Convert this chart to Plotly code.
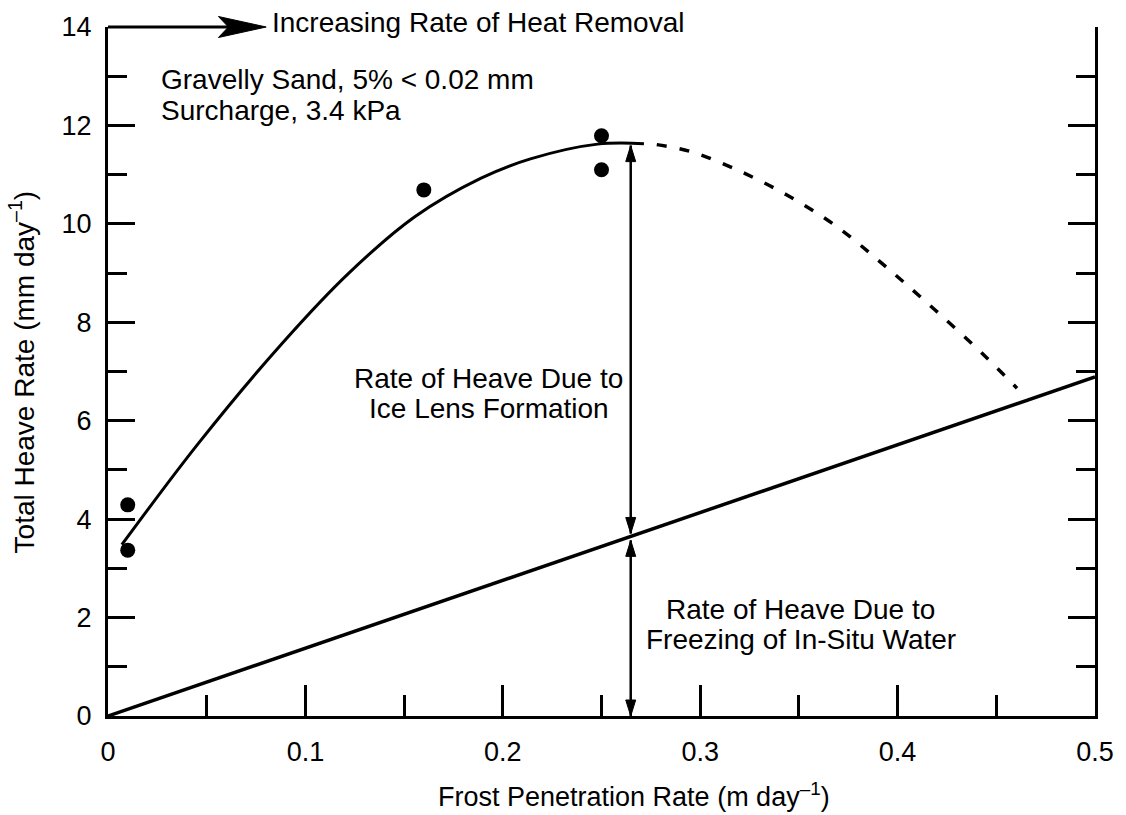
import numpy as np
import plotly.graph_objects as go

# ---------------- data ----------------
obs_x = [0.01, 0.01, 0.16, 0.25, 0.25]
obs_y = [4.29, 3.37, 10.69, 11.79, 11.10]

curve_x = [0.007, 0.046, 0.0884, 0.122, 0.1556, 0.189, 0.214, 0.248, 0.2715]
curve_y = [3.48, 5.55, 7.58, 9.00, 10.15, 10.93, 11.32, 11.62, 11.63]

dash_x = [0.278, 0.295, 0.3185, 0.3437, 0.369, 0.394, 0.419, 0.4446, 0.4605]
dash_y = [11.61, 11.47, 11.10, 10.59, 9.95, 9.13, 8.25, 7.30, 6.66]

insitu_x = [0.0, 0.5]
insitu_y = [0.0, 6.89]

arrow_x = 0.2648

x_ticks = [0, 0.1, 0.2, 0.3, 0.4, 0.5]
x_ticklabels = ["0", "0.1", "0.2", "0.3", "0.4", "0.5"]
y_ticks = [0, 2, 4, 6, 8, 10, 12, 14]
y_ticklabels = ["0", "2", "4", "6", "8", "10", "12", "14"]

# ---------------- layout geometry ----------------
W, H = 1126, 815
L, R, T, B = 108, 26, 27, 99
PW = W - L - R
PH = H - T - B
X_RANGE = [0, 0.5]
Y_RANGE = [0, 14]
FONT = "Liberation Sans, Arial, Helvetica, sans-serif"


def px_x(p):
    return (p - L) / PW


def px_y(p):
    return (H - B - p) / PH


DXP = (X_RANGE[1] - X_RANGE[0]) / PW
DYP = (Y_RANGE[1] - Y_RANGE[0]) / PH

fig = go.Figure()

fig.add_trace(go.Scatter(x=curve_x, y=curve_y, mode="lines",
                         line=dict(color="black", width=3, shape="spline", smoothing=1.0),
                         hoverinfo="skip", showlegend=False))
fig.add_trace(go.Scatter(x=dash_x, y=dash_y, mode="lines",
                         line=dict(color="black", width=3.5, shape="spline", dash="10px,13px"),
                         hoverinfo="skip", showlegend=False))
fig.add_trace(go.Scatter(x=insitu_x, y=insitu_y, mode="lines",
                         line=dict(color="black", width=3.5),
                         hoverinfo="skip", showlegend=False))
fig.add_trace(go.Scatter(x=obs_x, y=obs_y, mode="markers",
                         marker=dict(color="black", size=15, symbol="circle"),
                         hoverinfo="skip", showlegend=False))

shapes = []

# double arrows
line_at_arrow = float(np.interp(arrow_x, insitu_x, insitu_y))
peak = max(curve_y)


def head(tx, ty, direction, length=16, half=5):
    bx = ty - direction * length * DYP
    return dict(type="path", xref="x", yref="y",
                path=f"M{tx},{ty} L{tx - half * DXP},{bx} L{tx + half * DXP},{bx} Z",
                fillcolor="black", line=dict(color="black", width=1), layer="above")


up_top = peak - 0.04
up_bot = line_at_arrow + 0.06
lo_top = line_at_arrow - 0.08
lo_bot = 0.0
shapes.append(dict(type="line", xref="x", yref="y", x0=arrow_x, x1=arrow_x,
                   y0=up_bot, y1=up_top, line=dict(color="black", width=2.5)))
shapes.append(dict(type="line", xref="x", yref="y", x0=arrow_x, x1=arrow_x,
                   y0=lo_bot, y1=lo_top, line=dict(color="black", width=2.5)))
shapes.append(head(arrow_x, up_top, +1))
shapes.append(head(arrow_x, up_bot, -1))
shapes.append(head(arrow_x, lo_top, +1))
shapes.append(head(arrow_x, lo_bot, -1))

# top "increasing" arrow (paper coords)
tip = px_x(267)
back = px_x(219)
notch = px_x(229)
hh = 10.5 / PH
shapes.append(dict(type="line", xref="paper", yref="paper", x0=0, x1=notch + 0.002,
                   y0=1, y1=1, line=dict(color="black", width=3)))
shapes.append(dict(type="path", xref="paper", yref="paper",
                   path=f"M{tip},1 L{back},{1 + hh} L{notch},1 L{back},{1 - hh} Z",
                   fillcolor="black", line=dict(color="black", width=1)))

annotations = []


def text(t, xp, yp, xanchor="left", size=28, angle=0):
    annotations.append(dict(text=t, x=px_x(xp), y=px_y(yp), xref="paper", yref="paper",
                            xanchor=xanchor, yanchor="middle", showarrow=False,
                            textangle=angle, font=dict(family=FONT, size=size, color="black")))


text("Increasing Rate of Heat Removal", 271, 23)
text("Gravelly Sand, 5% < 0.02 mm", 159, 80)
text("Surcharge, 3.4 kPa", 159, 110)
text("Rate of Heave Due to", 490, 378, "center")
text("Ice Lens Formation", 491, 409, "center")
text("Rate of Heave Due to", 804, 609, "center")
text("Freezing of In-Situ Water", 805, 639, "center")
text("Frost Penetration Rate (m day<sup>–1</sup>)", 637, 795, "center", size=27)
text("Total Heave Rate (mm day<sup>–1</sup>)", 22, 372, "center", size=28, angle=-90)

axis_common = dict(showgrid=False, zeroline=False, showline=True, linecolor="black",
                   linewidth=3, ticks="inside", tickcolor="black", tickwidth=3,
                   tickfont=dict(family=FONT, size=27, color="black"))

fig.update_layout(
    width=W, height=H,
    margin=dict(l=L, r=R, t=T, b=B, pad=0),
    paper_bgcolor="white", plot_bgcolor="white",
    showlegend=False,
    xaxis=dict(range=X_RANGE, tickvals=x_ticks, ticktext=x_ticklabels, ticklen=31,
               mirror=False, ticklabelstandoff=10,
               minor=dict(dtick=0.05, tick0=0, ticks="inside", ticklen=21,
                          tickwidth=3, tickcolor="black", showgrid=False),
               **axis_common),
    yaxis=dict(range=Y_RANGE, tickvals=y_ticks, ticktext=y_ticklabels, ticklen=27,
               mirror="ticks", ticklabelstandoff=8,
               minor=dict(dtick=1, tick0=0, ticks="inside", ticklen=19,
                          tickwidth=3, tickcolor="black", showgrid=False),
               **axis_common),
    shapes=shapes,
    annotations=annotations,
)

fig.write_html("out.html")
